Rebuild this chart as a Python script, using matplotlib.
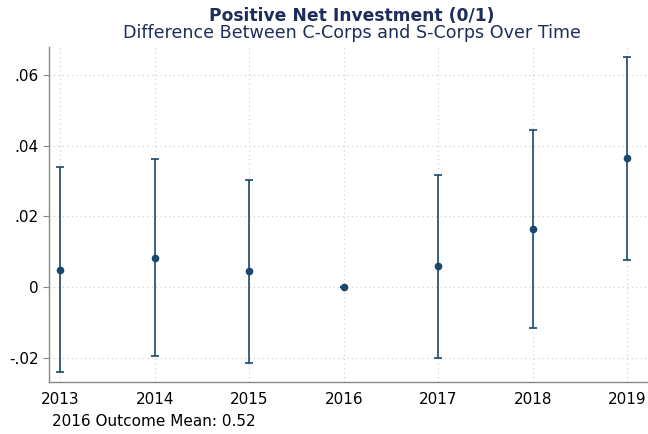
import matplotlib
matplotlib.use("Agg")
import matplotlib.pyplot as plt
import numpy as np

years = [2013, 2014, 2015, 2016, 2017, 2018, 2019]
coef = [0.0048, 0.0082, 0.0045, 0.0, 0.0059, 0.0164, 0.0365]
ci_low = [-0.0240, -0.0195, -0.0215, 0.0, -0.0201, -0.0116, 0.0076]
ci_high = [0.0340, 0.0362, 0.0303, 0.0, 0.0317, 0.0444, 0.0652]
yticks = [-0.02, 0, 0.02, 0.04, 0.06]
ytick_labels = ["-.02", "0", ".02", ".04", ".06"]

color = "#1a476f"
title_color = "#1f2d5a"

fig = plt.figure(figsize=(6.48, 4.34), dpi=100)
ax = fig.add_axes([49/648, 1 - 382/434, (647-49)/648, (382-47)/434])

yerr = [np.array(coef) - np.array(ci_low), np.array(ci_high) - np.array(coef)]
ax.errorbar(years, coef, yerr=yerr, fmt="o", color=color, ms=4.5,
            elinewidth=1.2, capsize=3, capthick=1.2, zorder=3)

ax.set_xlim(2012.88, 2019.21)
ax.set_ylim(-0.0269, 0.0679)
ax.set_xticks(years)
ax.set_xticklabels([str(y) for y in years], fontsize=11)
ax.set_yticks(yticks)
ax.set_yticklabels(ytick_labels, fontsize=11)
ax.grid(True, linestyle=(0, (1, 3)), color="#c8c8c8", linewidth=0.8)
ax.set_axisbelow(True)
for s in ["top", "right"]:
    ax.spines[s].set_visible(False)
for s in ["left", "bottom"]:
    ax.spines[s].set_color("#888888")
    ax.spines[s].set_linewidth(1.0)
ax.tick_params(axis="y", color="#888888", length=4, width=0.8)
ax.tick_params(axis="x", length=0, pad=7.5)

fig.text(352/648, 1 - 21/434, "Positive Net Investment (0/1)", ha="center", va="baseline",
         fontsize=12.3, fontweight="bold", color=title_color)
fig.text(352/648, 1 - 38.5/434, "Difference Between C-Corps and S-Corps Over Time", ha="center",
         va="baseline", fontsize=12.6, color=title_color)
fig.text(52/648, 1 - 421/434, "2016 Outcome Mean: 0.52", ha="left", va="center",
         fontsize=11, color="black")

fig.savefig("out.png", dpi=100)
